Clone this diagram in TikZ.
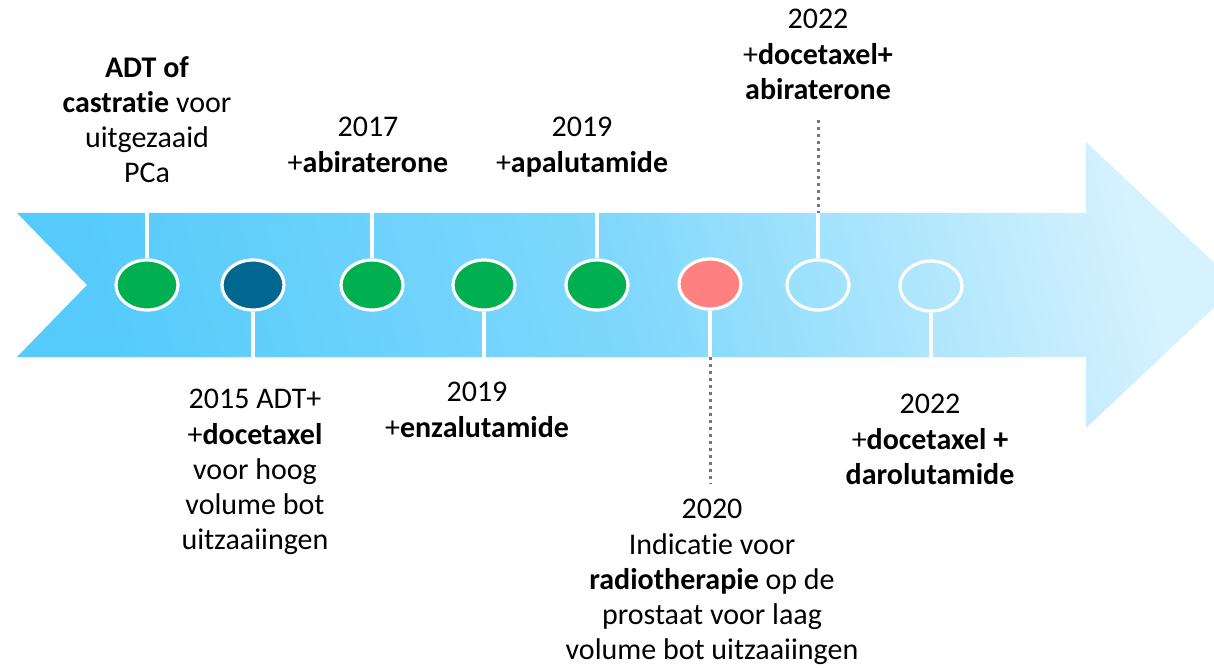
\documentclass[tikz,border=0pt]{standalone}
\usepackage{fontspec}
\setmainfont{Carlito}[Ligatures=NoCommon]
\usetikzlibrary{shapes.geometric}
\definecolor{arrowL}{RGB}{86,203,251}
\definecolor{arrowM}{RGB}{128,216,252}
\definecolor{arrowR}{RGB}{214,242,254}
\definecolor{mgreen}{RGB}{0,176,80}
\definecolor{mteal}{RGB}{0,104,144}
\definecolor{msalmon}{RGB}{255,128,128}
\definecolor{mgray}{RGB}{118,118,118}
\tikzset{
  mile/.style={ellipse, draw=white, line width=1.6pt, inner sep=0pt,
    minimum width=31pt, minimum height=25pt},
  tick/.style={draw=white, line width=1.6pt},
  dots/.style={draw=mgray, line width=1.5pt, dotted},
  lbl/.style={align=center, inner sep=0pt, font=\fontsize{15}{17.6}\selectfont}
}
\begin{document}
\begin{tikzpicture}[x=0.5pt,y=-0.5pt]
\useasboundingbox (0,0) rectangle (1214,668);

% Pijl
\shade[left color=arrowL, right color=arrowR, middle color=arrowM, shading angle=105]
(17,213) -- (1086,213) -- (1086,142) -- (1238,285)
-- (1086,428) -- (1086,357) -- (17,357) -- (87,285) -- cycle;

\coordinate (top) at (0,213);
\coordinate (bot) at (0,357);

% Mijlpalen
\node[mile, fill=mgreen] (c1) at (147,285) {};
\node[mile, fill=mteal] (c2) at (253,285) {};
\node[mile, fill=mgreen] (c3) at (372,285) {};
\node[mile, fill=mgreen] (c4) at (484,285) {};
\node[mile, fill=mgreen] (c5) at (597,285) {};
\node[mile, fill=msalmon] (c6) at (710,284) {};
\node[mile] (c7) at (818,285) {};
\node[mile] (c8) at (931,286) {};

% Teksten boven
\node[lbl, anchor=north] (t1) at (147,56)
{\textbf{ADT of}\\\textbf{castratie} voor\\uitgezaaid\\PCa};

\node[lbl, anchor=north] (t3) at (368,117)
{2017\\+\textbf{abiraterone}};

\node[lbl, anchor=north] (t5) at (582,117)
{2019\\+\textbf{apalutamide}};

\node[lbl, anchor=north] (t7) at (818,9)
{2022\\+\textbf{docetaxel+}\\\textbf{abiraterone}};

% Teksten onder
\node[lbl, anchor=north] (t2) at (255,389)
{2015 ADT+\\+\textbf{docetaxel}\\voor hoog\\volume bot\\uitzaaiingen};

\node[lbl, anchor=north] (t4) at (477,382)
{2019\\+\textbf{enzalutamide}};

\node[lbl, anchor=north] (t6) at (712,499)
{2020\\Indicatie voor\\\textbf{radiotherapie} op de\\prostaat voor laag\\volume bot uitzaaiingen};

\node[lbl, anchor=north] (t8) at (930,394)
{2022\\+\textbf{docetaxel +}\\\textbf{darolutamide}};

% Lijnen
\draw[tick] (c1.north) -- (c1 |- top);
\draw[tick] (c3.north) -- (c3 |- top);
\draw[tick] (c5.north) -- (c5 |- top);
\draw[tick] (c7.north) -- (c7 |- top);
\draw[tick] (c2.south) -- (c2 |- bot);
\draw[tick] (c4.south) -- (c4 |- bot);
\draw[tick] (c6.south) -- (c6 |- bot);
\draw[tick] (c8.south) -- (c8 |- bot);

\coordinate (d7) at (818,120);
\coordinate (d6) at (710,484);
\draw[dots] (d7) -- (c7 |- top);
\draw[dots] (c6 |- bot) -- (d6);

\end{tikzpicture}
\end{document}
